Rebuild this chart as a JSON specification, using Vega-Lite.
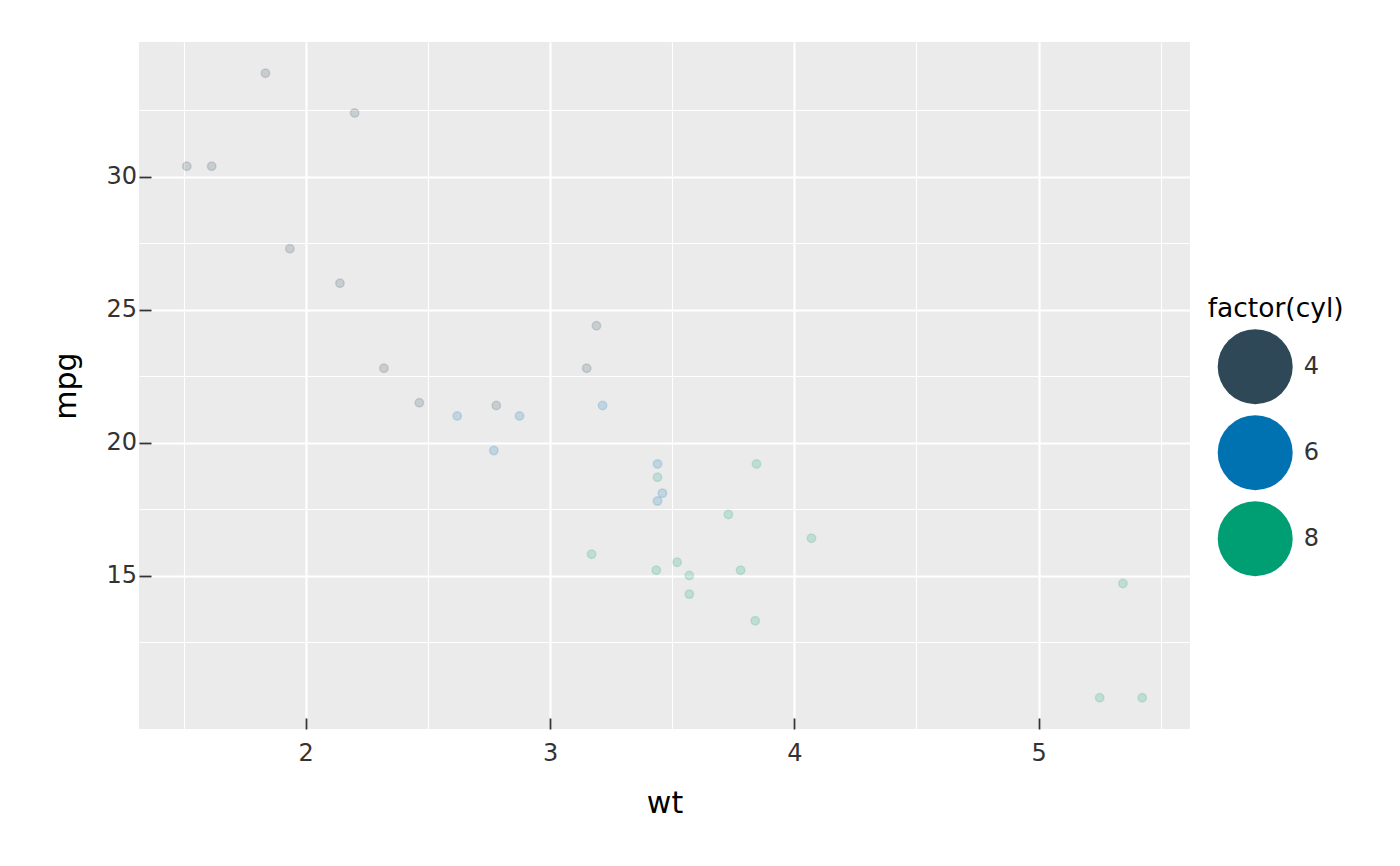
{
  "$schema": "https://vega.github.io/schema/vega-lite/v6.json",
  "width": 1051,
  "height": 687,
  "autosize": {"type": "none"},
  "padding": {"left": 139, "top": 42, "right": 210, "bottom": 137},
  "background": "white",
  "config": {
    "view": {"fill": "#EBEBEB", "stroke": null},
    "font": "DejaVu Sans"
  },
  "data": {
    "values": [
      {"car": "Mazda RX4", "mpg": 21.0, "cyl": "6", "wt": 2.620},
      {"car": "Mazda RX4 Wag", "mpg": 21.0, "cyl": "6", "wt": 2.875},
      {"car": "Datsun 710", "mpg": 22.8, "cyl": "4", "wt": 2.320},
      {"car": "Hornet 4 Drive", "mpg": 21.4, "cyl": "6", "wt": 3.215},
      {"car": "Hornet Sportabout", "mpg": 18.7, "cyl": "8", "wt": 3.440},
      {"car": "Valiant", "mpg": 18.1, "cyl": "6", "wt": 3.460},
      {"car": "Duster 360", "mpg": 14.3, "cyl": "8", "wt": 3.570},
      {"car": "Merc 240D", "mpg": 24.4, "cyl": "4", "wt": 3.190},
      {"car": "Merc 230", "mpg": 22.8, "cyl": "4", "wt": 3.150},
      {"car": "Merc 280", "mpg": 19.2, "cyl": "6", "wt": 3.440},
      {"car": "Merc 280C", "mpg": 17.8, "cyl": "6", "wt": 3.440},
      {"car": "Merc 450SE", "mpg": 16.4, "cyl": "8", "wt": 4.070},
      {"car": "Merc 450SL", "mpg": 17.3, "cyl": "8", "wt": 3.730},
      {"car": "Merc 450SLC", "mpg": 15.2, "cyl": "8", "wt": 3.780},
      {"car": "Cadillac Fleetwood", "mpg": 10.4, "cyl": "8", "wt": 5.250},
      {"car": "Lincoln Continental", "mpg": 10.4, "cyl": "8", "wt": 5.424},
      {"car": "Chrysler Imperial", "mpg": 14.7, "cyl": "8", "wt": 5.345},
      {"car": "Fiat 128", "mpg": 32.4, "cyl": "4", "wt": 2.200},
      {"car": "Honda Civic", "mpg": 30.4, "cyl": "4", "wt": 1.615},
      {"car": "Toyota Corolla", "mpg": 33.9, "cyl": "4", "wt": 1.835},
      {"car": "Toyota Corona", "mpg": 21.5, "cyl": "4", "wt": 2.465},
      {"car": "Dodge Challenger", "mpg": 15.5, "cyl": "8", "wt": 3.520},
      {"car": "AMC Javelin", "mpg": 15.2, "cyl": "8", "wt": 3.435},
      {"car": "Camaro Z28", "mpg": 13.3, "cyl": "8", "wt": 3.840},
      {"car": "Pontiac Firebird", "mpg": 19.2, "cyl": "8", "wt": 3.845},
      {"car": "Fiat X1-9", "mpg": 27.3, "cyl": "4", "wt": 1.935},
      {"car": "Porsche 914-2", "mpg": 26.0, "cyl": "4", "wt": 2.140},
      {"car": "Lotus Europa", "mpg": 30.4, "cyl": "4", "wt": 1.513},
      {"car": "Ford Pantera L", "mpg": 15.8, "cyl": "8", "wt": 3.170},
      {"car": "Ferrari Dino", "mpg": 19.7, "cyl": "6", "wt": 2.770},
      {"car": "Maserati Bora", "mpg": 15.0, "cyl": "8", "wt": 3.570},
      {"car": "Volvo 142E", "mpg": 21.4, "cyl": "4", "wt": 2.780}
    ]
  },
  "mark": {
    "type": "point",
    "filled": true,
    "shape": "circle",
    "size": 72,
    "fillOpacity": 0.18,
    "strokeOpacity": 0.16,
    "strokeWidth": 1.5
  },
  "encoding": {
    "x": {
      "field": "wt",
      "type": "quantitative",
      "scale": {"domain": [1.31745, 5.61955], "nice": false, "zero": false},
      "axis": {
        "title": "wt",
        "titleFontSize": 30,
        "titleFontWeight": "normal",
        "titleColor": "black",
        "titleBaseline": "alphabetic",
        "titleY": 83.3,
        "values": [1.5, 2, 2.5, 3, 3.5, 4, 4.5, 5, 5.5],
        "labelExpr": "datum.value % 1 === 0 ? format(datum.value, 'd') : ''",
        "labelFontSize": 24,
        "labelColor": "#333333",
        "labelPadding": 23.5,
        "domain": false,
        "tickSize": -11,
        "tickWidth": 1.8,
        "tickColor": {"condition": {"test": "datum.value % 1 === 0", "value": "#333333"}, "value": "transparent"},
        "grid": true,
        "gridColor": "white",
        "gridOpacity": 1,
        "gridWidth": {"condition": {"test": "datum.value % 1 === 0", "value": 2.2}, "value": 1.1}
      }
    },
    "y": {
      "field": "mpg",
      "type": "quantitative",
      "scale": {"domain": [9.225, 35.075], "nice": false, "zero": false},
      "axis": {
        "title": "mpg",
        "titleFontSize": 30,
        "titleFontWeight": "normal",
        "titleColor": "black",
        "titleBaseline": "alphabetic",
        "titleAlign": "center",
        "titleAngle": 270,
        "titleX": -64,
        "titleY": 343.5,
        "values": [12.5, 15, 17.5, 20, 22.5, 25, 27.5, 30, 32.5],
        "labelExpr": "datum.value % 5 === 0 ? format(datum.value, 'd') : ''",
        "labelFontSize": 24,
        "labelColor": "#333333",
        "labelPadding": 14.5,
        "domain": false,
        "tickSize": -12,
        "tickWidth": 1.8,
        "tickColor": {"condition": {"test": "datum.value % 5 === 0", "value": "#333333"}, "value": "transparent"},
        "grid": true,
        "gridColor": "white",
        "gridOpacity": 1,
        "gridWidth": {"condition": {"test": "datum.value % 5 === 0", "value": 2.2}, "value": 1.1}
      }
    },
    "color": {
      "field": "cyl",
      "type": "nominal",
      "scale": {"domain": ["4", "6", "8"], "range": ["#2F4858", "#0072B2", "#009E73"]},
      "legend": {
        "orient": "none",
        "legendX": 1068.7,
        "legendY": 254,
        "padding": 0,
        "title": "factor(cyl)",
        "titleFontSize": 26.5,
        "titleFontWeight": "normal",
        "titleColor": "black",
        "titlePadding": 6.7,
        "symbolType": "circle",
        "symbolSize": 5625,
        "symbolOpacity": 1,
        "symbolStrokeWidth": 0,
        "symbolOffset": 10,
        "labelFontSize": 24,
        "labelColor": "#333333",
        "labelOffset": 11,
        "rowPadding": 11,
        "encode": {
          "symbols": {"update": {"fillOpacity": {"value": 1}, "opacity": {"value": 1}}}
        }
      }
    },
    "stroke": {
      "field": "cyl",
      "type": "nominal",
      "scale": {"domain": ["4", "6", "8"], "range": ["#2F4858", "#0072B2", "#009E73"]},
      "legend": null
    }
  }
}
